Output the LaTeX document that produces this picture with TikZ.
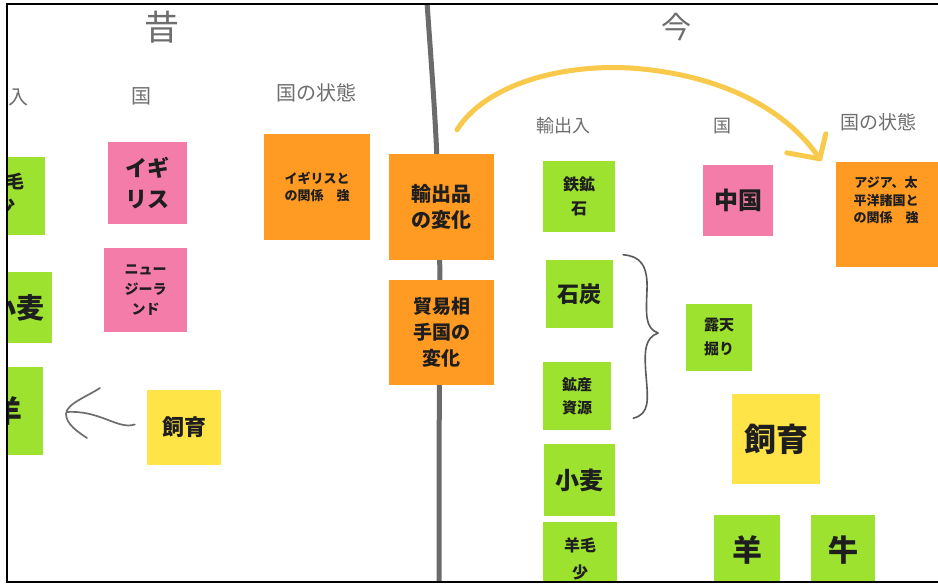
\documentclass[tikz,border=0pt]{standalone}
\usepackage{fontspec}
\setmainfont{Noto Sans CJK JP}
\usetikzlibrary{calc}
\definecolor{sgreen}{HTML}{9CE22E}
\definecolor{spink}{HTML}{F47CA9}
\definecolor{sorange}{HTML}{FF9B22}
\definecolor{syellow}{HTML}{FFE448}
\definecolor{labgray}{HTML}{6E6E6E}
\definecolor{ink}{HTML}{1E1E1E}
\definecolor{penyellow}{HTML}{F8C94A}
\definecolor{pengray}{HTML}{5A5A5A}
\tikzset{
  sticky/.style={rectangle, inner sep=0pt, align=center, text=ink, font=\bfseries},
  gnote/.style={sticky, fill=sgreen},
  pnote/.style={sticky, fill=spink},
  onote/.style={sticky, fill=sorange},
  ynote/.style={sticky, fill=syellow},
  lab/.style={text=labgray, inner sep=0pt},
  pen/.style={draw=pengray, line width=1.8pt, line cap=round, line join=round},
}
\newcommand{\fs}[2]{\fontsize{#1}{#2}\selectfont}
\begin{document}
\begin{tikzpicture}[x=1pt,y=-1pt]
\useasboundingbox (0,0) rectangle (938,584);
\fill[white] (0,0) rectangle (938,584);
\begin{scope}
\clip (7,4) rectangle (938,582);
% divider
\draw[draw=pengray!90, line width=5pt, line cap=round]
  (427,2) .. controls (431,60) and (435,110) .. (437,160)
  .. controls (439,220) and (440,260) .. (440,300)
  .. controls (439,420) and (439,500) .. (439,590);
% labels
\node[lab, font=\fs{35}{35}] (mukashi) at (162,27) {昔};
\node[lab, font=\fs{30}{30}] (ima) at (676,27) {今};
\node[lab, font=\fs{20}{20}] (lyushi) at (19,97) {入};
\node[lab, font=\fs{20}{20}] (lkuni) at (141,96) {国};
\node[lab, font=\fs{20}{20}] (ljotai) at (316,93) {国の状態};
\node[lab, font=\fs{18}{18}] (ryushi) at (563,126) {輸出入};
\node[lab, font=\fs{18}{18}] (rkuni) at (722,126) {国};
\node[lab, font=\fs{19}{19}] (rjotai) at (878,122) {国の状態};
% left stickies
\node[gnote, minimum width=70, minimum height=78] (lyomo) at (10,196) {};
\node[sticky, font=\bfseries\fs{18}{24}] (lyomotxt) at (7,194) {羊毛\\少};
\node[gnote, minimum width=72, minimum height=71, font=\bfseries\fs{28}{28}] (lkomugi) at (16,307.5) {小麦};
\node[gnote, minimum width=70, minimum height=88, font=\bfseries\fs{30}{30}] (lhitsuji) at (8,411) {羊};
\node[pnote, minimum width=79, minimum height=82, font=\bfseries\fs{22}{31}] (uk) at (147.5,183) {イギ\\リス};
\node[pnote, minimum width=83, minimum height=84, font=\bfseries\fs{14}{20}] (nz) at (145.5,290) {ニュー\\ジーラ\\ンド};
\node[onote, minimum width=106, minimum height=106] (ukrel) at (317,187) {};
\node[sticky, font=\bfseries\fs{13}{17}] (ukreltxt) at (317,187) {イギリスと\\の関係\quad 強};
\node[onote, minimum width=105, minimum height=106, font=\bfseries\fs{20}{26}] (yhenka) at (441.5,207) {輸出品\\の変化};
\node[onote, minimum width=105, minimum height=105, font=\bfseries\fs{19}{26}] (bhenka) at (441.5,332.5) {貿易相\\手国の\\変化};
\node[ynote, minimum width=74, minimum height=75, font=\bfseries\fs{22}{22}] (lshiiku) at (184,427.5) {飼育};
% right stickies
\node[gnote, minimum width=72, minimum height=71, font=\bfseries\fs{16}{24}] (tekko) at (579,196.5) {鉄鉱\\石};
\node[pnote, minimum width=70, minimum height=71, font=\bfseries\fs{24}{24}] (china) at (738,200.5) {中国};
\node[onote, minimum width=106, minimum height=105] (asia) at (889,214.5) {};
\node[sticky, font=\bfseries\fs{13}{17.5}] (asiatxt) at (886,200.5) {アジア、太\\平洋諸国と\\の関係\quad 強};
\node[gnote, minimum width=67, minimum height=68, font=\bfseries\fs{22}{22}] (sekitan) at (579.5,294) {石炭};
\node[gnote, minimum width=68, minimum height=68, font=\bfseries\fs{15}{23}] (kosan) at (577,396) {鉱産\\資源};
\node[gnote, minimum width=71, minimum height=72, font=\bfseries\fs{24}{24}] (rkomugi) at (579.5,480) {小麦};
\node[gnote, minimum width=74, minimum height=73, font=\bfseries\fs{16}{27}] (ryomo) at (580,558.5) {羊毛\\少};
\node[gnote, minimum width=66, minimum height=67, font=\bfseries\fs{15}{24}] (roten) at (719,337.5) {露天\\掘り};
\node[ynote, minimum width=88, minimum height=90, font=\bfseries\fs{32}{32}] (rshiiku) at (776,439) {飼育};
\node[gnote, minimum width=66, minimum height=70, font=\bfseries\fs{30}{30}] (rhitsuji) at (747,550) {羊};
\node[gnote, minimum width=64, minimum height=70, font=\bfseries\fs{30}{30}] (ushi) at (843,550) {牛};
% yellow arrow
\coordinate (ya0) at ($(yhenka.north)+(15.5,-24)$);
\coordinate (yatip) at ($(asia.north west)+(-16,-3)$);
\draw[draw=penyellow, line width=5pt, line cap=round, line join=round]
  (ya0) .. controls (485,85) and (560,64) .. (630,68)
  .. controls (705,73) and (780,100) .. (yatip);
\draw[draw=penyellow, line width=5pt, line cap=round, line join=round]
  ($(yatip)+(-33,-6)$) -- (yatip) -- ($(yatip)+(6,-25)$);
% brace
\coordinate (brtop) at ($(sekitan.north east)+(10,-5)$);
\coordinate (brbot) at ($(kosan.south east)+(22,-12)$);
\draw[pen, line width=1.6pt]
  (brtop) .. controls (640,256) and (648,265) .. (647,290)
  .. controls (646,315) and (645,328) .. (658,333)
  .. controls (645,338) and (644,350) .. (646,375)
  .. controls (648,400) and (650,414) .. (brbot);
% left gray arrow
\coordinate (gtail) at ($(lshiiku.west)+(-12,-3)$);
\coordinate (gtip) at (67,412);
\draw[pen, draw=labgray, line width=1.7pt]
  (gtail) .. controls (118,430) and (100,410) .. (gtip);
\draw[pen, draw=labgray, line width=1.7pt]
  (100,388) .. controls (88,396) and (66,404) .. (66,414)
  .. controls (66,424) and (78,432) .. (87,438);
\end{scope}
% frame
\draw[black, line width=2.4pt] (938,4) -- (7,4) -- (7,582) -- (938,582);
\end{tikzpicture}
\end{document}
